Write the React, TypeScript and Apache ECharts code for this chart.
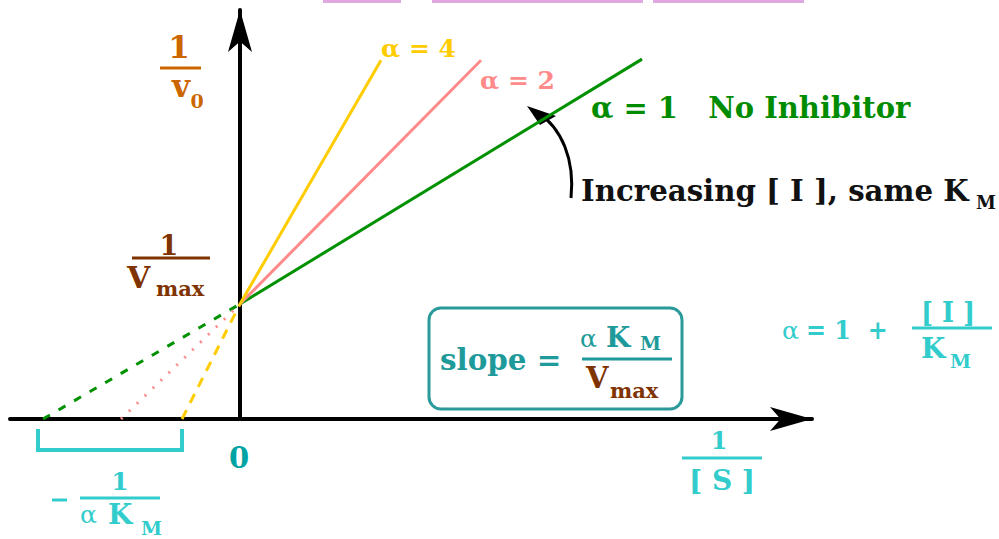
import { useEffect, useRef } from 'react';
import * as echarts from 'echarts';

// Lineweaver–Burk plot, competitive-style family of lines through 1/Vmax
const lineNames = ['α = 1', 'α = 2', 'α = 4'];
const invVmax = 1;
// x-intercepts: -1/(α·KM)
const xIntercepts = [-1.97, -1.19, -0.58];
// far ends of the drawn solid segments
const endX = [4.02, 2.41, 1.41];
const endY = [3.13, 3.12, 3.12];

const X_MIN = -2.3;
const X_MAX = 5.72;
const Y_MIN = 0;
const Y_MAX = 3.557;

const SERIF = '"DejaVu Serif", "Liberation Serif", serif';
const CYAN = '#33cccc';
const TEAL = '#1f9a9a';
const BROWN = '#7f3300';
const ORANGE = '#cc6600';
const GREEN = '#008c00';

function txt(text: string, x: number, baseline: number, size: number, color: string, align = 'left', scaleX = 1, weight = 'bold') {
  return {
    type: 'text',
    x,
    y: baseline - 0.35 * size,
    scaleX,
    silent: true,
    style: {
      text,
      fill: color,
      font: `${weight} ${size}px ${SERIF}`,
      align,
      verticalAlign: 'middle',
      textAlign: align,
      textVerticalAlign: 'middle',
    },
  };
}

function hline(x1: number, x2: number, y: number, color: string, w = 3) {
  return { type: 'line', silent: true, shape: { x1, y1: y, x2, y2: y }, style: { stroke: color, lineWidth: w } };
}

export default function App() {
  const ref = useRef<HTMLDivElement>(null);
  useEffect(() => {
    if (!ref.current) return;
    const chart = echarts.init(ref.current, undefined, { renderer: 'svg' });
    const colors = ['#009100', '#ff8a8a', '#ffcc00'];
    const dashes = [[8, 10], [2, 9], [10, 8]];
    const series: any[] = [];
    lineNames.forEach((name, i) => {
      series.push({
        type: 'line',
        name: name + ' (extrapolated)',
        data: [[xIntercepts[i], 0], [0, invVmax]],
        symbol: 'none',
        silent: true,
        lineStyle: { color: colors[i], width: 3, type: dashes[i] },
      });
      series.push({
        type: 'line',
        name,
        data: [[0, invVmax], [endX[i], endY[i]]],
        symbol: 'none',
        silent: true,
        lineStyle: { color: colors[i], width: 3 },
      });
    });

    const graphic: any[] = [
      // underlines of the heading above
      { type: 'rect', silent: true, shape: { x: 323, y: 0, width: 78, height: 3 }, style: { fill: '#e0a8e0' } },
      { type: 'rect', silent: true, shape: { x: 432, y: 0, width: 211, height: 3 }, style: { fill: '#e0a8e0' } },
      { type: 'rect', silent: true, shape: { x: 653, y: 0, width: 151, height: 3 }, style: { fill: '#e0a8e0' } },

      // 1 / v0
      txt('1', 179, 58, 31, ORANGE, 'center'),
      hline(160, 201, 68, ORANGE),
      txt('v', 181, 97, 31, ORANGE, 'center'),
      txt('0', 197, 108, 19, ORANGE, 'center'),

      // 1 / Vmax
      txt('1', 169, 255, 27, BROWN, 'center'),
      hline(132, 210, 258, BROWN),
      txt('V', 127, 288, 30, BROWN),
      txt('max', 156, 296, 21, BROWN),

      // line labels
      txt('α = 4', 381, 57, 25, '#ffcc00'),
      txt('α = 2', 480, 89, 25, '#ff8a8a'),
      txt('α = 1   No Inhibitor', 591, 118, 29, GREEN),

      // annotation with curved arrow
      txt('Increasing [ I ], same K', 581, 201, 30, '#111111', 'left', 0.975),
      txt('M', 976, 209, 18, '#111111'),
      {
        type: 'bezierCurve',
        silent: true,
        shape: { x1: 571, y1: 198, cpx1: 575, cpy1: 160, cpx2: 562, cpy2: 128, x2: 537, y2: 112 },
        style: { stroke: '#000', lineWidth: 3, fill: 'none' },
      },
      {
        type: 'polygon',
        silent: true,
        shape: { points: [[527, 106], [556, 116], [540, 125]] },
        style: { fill: '#000' },
      },

      // slope box
      {
        type: 'rect',
        silent: true,
        shape: { x: 429, y: 308, width: 253, height: 101, r: 12 },
        style: { stroke: '#2a9a9a', lineWidth: 3, fill: 'none' },
      },
      txt('slope =', 440, 370, 30, TEAL, 'left', 0.98),
      txt('α', 580, 347, 25, TEAL, 'left', 1, 'normal'),
      txt('K', 606, 347, 28, TEAL),
      txt('M', 640, 350, 19, TEAL),
      hline(582, 672, 359, TEAL),
      txt('V', 586, 388, 29, BROWN),
      txt('max', 610, 398, 21, BROWN),

      // α definition
      txt('α', 782, 339, 25, CYAN, 'left', 1, 'normal'),
      txt('= 1  +', 806, 339, 26, CYAN, 'left', 0.92),
      txt('[ I ]', 948, 322, 27, CYAN, 'center', 0.95),
      hline(912, 992, 328, CYAN),
      txt('K', 921, 358, 28, CYAN),
      txt('M', 950, 368, 19, CYAN),

      // origin label
      txt('0', 239, 468, 29, '#00a3a3', 'center'),

      // 1 / [S]
      txt('1', 719, 449, 24, CYAN, 'center'),
      hline(682, 762, 458, CYAN),
      txt('[ S ]', 722, 490, 28, CYAN, 'center'),

      // bracket and -1/(α KM)
      {
        type: 'polyline',
        silent: true,
        shape: { points: [[38, 429], [38, 450], [182, 450], [182, 429]] },
        style: { stroke: CYAN, lineWidth: 4, fill: 'none' },
      },
      hline(52, 67, 500, CYAN, 3),
      txt('1', 120, 490, 25, CYAN, 'center'),
      hline(80, 160, 498, CYAN),
      txt('α', 80, 523, 25, CYAN, 'left', 1, 'normal'),
      txt('K', 108, 524, 28, CYAN),
      txt('M', 141, 535, 19, CYAN),
    ];

    chart.setOption({
      animation: false,
      backgroundColor: '#ffffff',
      grid: { left: 10, top: 10, width: 802, height: 409, containLabel: false },
      xAxis: {
        type: 'value',
        min: X_MIN,
        max: X_MAX,
        splitLine: { show: false },
        axisTick: { show: false },
        axisLabel: { show: false },
        axisLine: {
          show: true,
          onZero: true,
          symbol: ['none', 'arrow'],
          symbolSize: [18, 42],
          lineStyle: { color: '#000', width: 4 },
        },
      },
      yAxis: {
        type: 'value',
        min: Y_MIN,
        max: Y_MAX,
        splitLine: { show: false },
        axisTick: { show: false },
        axisLabel: { show: false },
        axisLine: {
          show: true,
          onZero: true,
          symbol: ['none', 'arrow'],
          symbolSize: [18, 42],
          lineStyle: { color: '#000', width: 4 },
        },
      },
      series,
      graphic,
    });
    return () => chart.dispose();
  }, []);
  return <div ref={ref} style={{ position: 'absolute', left: 0, top: 0, width: 999, height: 539 }} />;
}
